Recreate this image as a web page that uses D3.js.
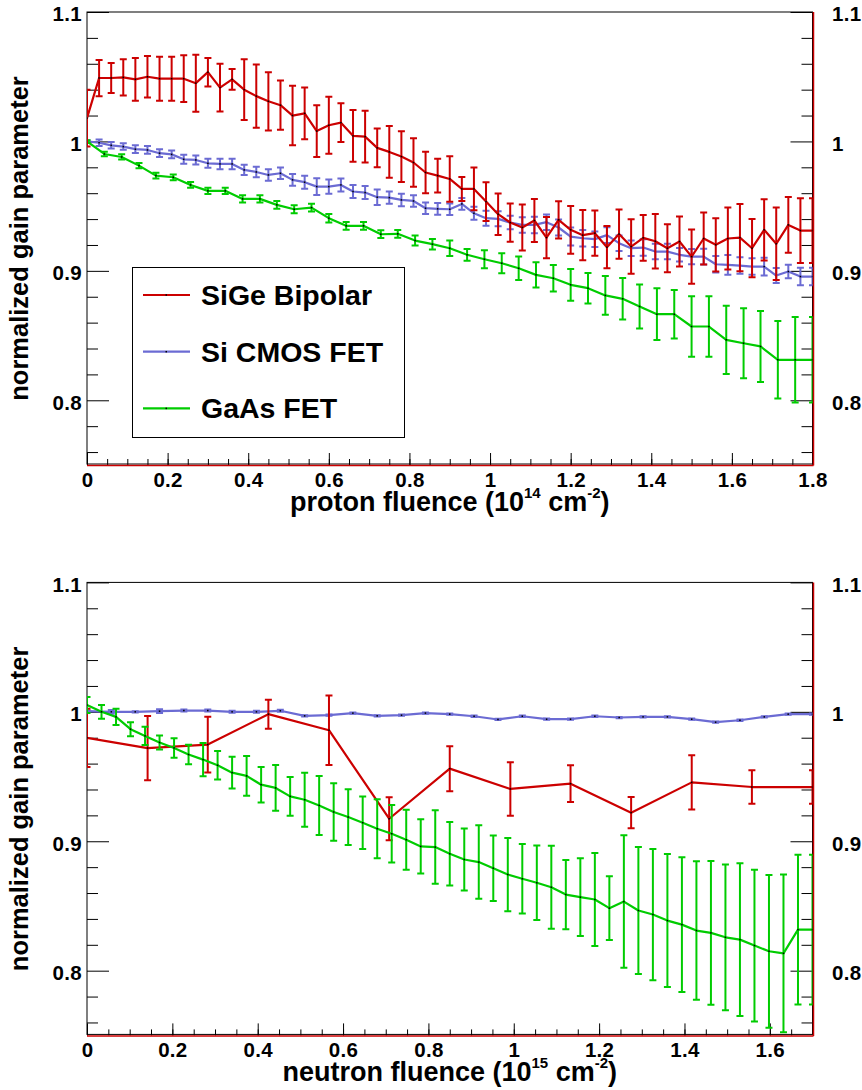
<!DOCTYPE html>
<html>
<head>
<meta charset="utf-8">
<script src="https://cdn.jsdelivr.net/npm/d3@7"></script>
<style>
  body { margin: 0; background: #fff; }
  text { font-family: "Liberation Sans", Arial, Helvetica, sans-serif; font-weight: bold; fill: #000; }
</style>
</head>
<body>
<script>
// ---- data: top panel (proton) ----
const protonX = [0,0.03,0.06,0.09,0.12,0.15,0.18,0.21,0.24,0.27,0.3,0.33,0.36,0.39,0.42,0.45,0.48,0.51,0.54,0.57,
  0.6,0.63,0.66,0.69,0.72,0.75,0.78,0.81,0.84,0.87,0.9,0.93,0.96,0.99,1.02,1.05,1.08,1.11,1.14,1.17,
  1.2,1.23,1.26,1.29,1.32,1.35,1.38,1.41,1.44,1.47,1.5,1.53,1.56,1.59,1.62,1.65,1.68,1.71,1.74,1.77,1.8];
const protonSiGe = [1.018,1.049,1.049,1.0495,1.048,1.050,1.0485,1.0485,1.0485,1.045,1.0535,1.0416,1.048,1.040,1.035,1.031,1.028,1.020,1.0217,1.008,
  1.0125,1.0145,1.0043,1.0037,0.995,0.9919,0.9883,0.9837,0.976,0.9736,0.971,0.9633,0.9633,0.9535,0.9438,0.9373,0.9335,0.9389,0.9257,0.9394,
  0.9317,0.9276,0.9291,0.9183,0.9284,0.9188,0.9255,0.9229,0.9175,0.9227,0.911,0.925,0.9201,0.925,0.9257,0.9175,0.9317,0.9209,0.9355,0.9311,0.9311];
const protonSiGeErr = [0.022,0.014,0.0115,0.014,0.0165,0.016,0.017,0.017,0.018,0.022,0.011,0.0185,0.008,0.0235,0.0245,0.0225,0.019,0.023,0.020,0.020,
  0.022,0.015,0.020,0.020,0.015,0.020,0.0196,0.0187,0.016,0.013,0.0176,0.0093,0.0165,0.015,0.016,0.0148,0.0178,0.0167,0.016,0.0144,
  0.0184,0.0194,0.0175,0.0163,0.019,0.021,0.0176,0.021,0.0185,0.0193,0.021,0.020,0.0206,0.024,0.026,0.0225,0.0237,0.028,0.0215,0.025,0.025];
const protonCMOS = [1.0,0.999,0.997,0.996,0.994,0.9934,0.9909,0.990,0.9862,0.9857,0.9831,0.9826,0.9826,0.978,0.9764,0.9741,0.9754,0.9703,0.9685,0.9651,
  0.9651,0.9664,0.9613,0.9605,0.9569,0.9566,0.9548,0.954,0.9484,0.9479,0.9476,0.9517,0.9445,0.9407,0.9402,0.9373,0.9355,0.9355,0.9376,0.9335,
  0.9265,0.9252,0.9245,0.9276,0.9214,0.9175,0.918,0.9149,0.9149,0.9124,0.911,0.911,0.9051,0.9046,0.9041,0.9033,0.9033,0.8964,0.8995,0.8956,0.8956];
const protonCMOSErr = [0.001,0.0025,0.0025,0.0025,0.003,0.003,0.003,0.003,0.0035,0.0035,0.0035,0.004,0.004,0.004,0.004,0.0045,0.0045,0.0045,0.005,0.0065,
  0.0055,0.005,0.005,0.005,0.006,0.0048,0.0048,0.0045,0.0044,0.0045,0.0045,0.0045,0.005,0.0058,0.0058,0.0052,0.006,0.0064,0.006,0.0062,
  0.007,0.0064,0.006,0.006,0.006,0.006,0.0064,0.006,0.006,0.0052,0.0058,0.006,0.0064,0.0077,0.0064,0.0064,0.0068,0.0058,0.0052,0.0068,0.0068];
const protonGaAsX = [0,0.043,0.086,0.129,0.171,0.214,0.257,0.3,0.343,0.386,0.429,0.471,0.514,0.557,0.6,0.643,0.686,0.729,0.771,0.814,
  0.857,0.9,0.943,0.986,1.029,1.071,1.114,1.157,1.2,1.243,1.286,1.329,1.371,1.414,1.457,1.5,1.543,1.586,1.629,1.671,1.714,1.757,1.8];
const protonGaAs = [1.0,0.9903,0.988,0.9813,0.9736,0.9723,0.9664,0.9618,0.9618,0.9556,0.9556,0.951,0.9476,0.9489,0.9407,0.9348,0.9348,0.9283,0.9286,0.9234,
  0.9206,0.9175,0.9124,0.909,0.9059,0.902,0.8969,0.8943,0.8892,0.8866,0.881,0.8784,0.8725,0.8665,0.8665,0.857,0.857,0.8467,0.8441,0.8416,0.8313,0.8313,0.8313];
const protonGaAsErr = [0.001,0.0018,0.002,0.002,0.0022,0.0022,0.0022,0.0025,0.0025,0.0028,0.0028,0.003,0.003,0.003,0.0033,0.003,0.003,0.003,0.003,0.0039,
  0.0041,0.006,0.0045,0.007,0.0077,0.009,0.0097,0.0103,0.0122,0.0118,0.015,0.016,0.017,0.020,0.0187,0.0234,0.0234,0.0264,0.027,0.0274,0.030,0.033,0.033];

// ---- data: bottom panel (neutron) ----
const neutronSiGeX = [0,0.142,0.283,0.425,0.567,0.708,0.85,0.992,1.133,1.275,1.417,1.558,1.7];
const neutronSiGe = [0.9799,0.972,0.9747,0.9982,0.9858,0.9174,0.9561,0.9404,0.9445,0.9221,0.9455,0.9419,0.9419];
const neutronSiGeErr = [0.0225,0.0248,0.0215,0.0112,0.0268,0.0166,0.0174,0.0206,0.0142,0.012,0.021,0.0129,0.0129];
const neutronCMOSX = [0,0.057,0.113,0.17,0.227,0.283,0.34,0.397,0.453,0.51,0.567,0.623,0.68,0.737,0.793,0.85,0.907,0.963,1.02,1.077,
  1.133,1.19,1.247,1.303,1.36,1.417,1.473,1.53,1.587,1.643,1.7];
const neutronCMOS = [1.0005,1.0,1.0,1.0005,1.001,1.001,1.0,1.0,1.0008,0.9969,0.9974,0.999,0.9969,0.9974,0.999,0.9982,0.9966,0.9941,0.9966,0.9943,
  0.9943,0.9966,0.9956,0.9961,0.9961,0.9943,0.992,0.9935,0.9961,0.9982,0.9982];
const neutronCMOSErr = [0.0005,0.0015,0.0005,0.0015,0.0008,0.0008,0.0008,0.0008,0.0008,0.0005,0.0005,0.0005,0.0005,0.0005,0.0005,0.0005,0.0005,0.0005,0.0005,0.0005,
  0.0005,0.0005,0.0005,0.0005,0.0005,0.0005,0.0005,0.0005,0.0005,0.0005,0.0005];
const neutronGaAsX = [0,0.034,0.068,0.102,0.136,0.17,0.204,0.238,0.272,0.306,0.34,0.374,0.408,0.442,0.476,0.51,0.544,0.578,0.612,0.646,
  0.68,0.714,0.748,0.782,0.816,0.85,0.884,0.918,0.952,0.986,1.02,1.054,1.088,1.122,1.156,1.19,1.224,1.258,1.292,1.326,
  1.36,1.394,1.428,1.462,1.496,1.53,1.564,1.598,1.632,1.666,1.7];
const neutronGaAs = [1.0052,1.0,0.9961,0.9866,0.9814,0.9763,0.9721,0.967,0.9631,0.9587,0.953,0.9505,0.9437,0.9412,0.9347,0.9321,0.9277,0.9226,0.9187,0.9143,
  0.9097,0.9058,0.9012,0.896,0.8955,0.8903,0.8859,0.8839,0.8792,0.8743,0.871,0.8679,0.8645,0.8588,0.8568,0.855,0.8483,0.8534,0.8465,0.8434,
  0.8387,0.8356,0.831,0.8292,0.8258,0.824,0.8194,0.815,0.8134,0.8317,0.8317];
const neutronGaAsErr = [0.0062,0.0053,0.0062,0.0054,0.0071,0.0055,0.0075,0.0075,0.0128,0.011,0.0123,0.0154,0.0137,0.0177,0.015,0.0208,0.0228,0.0223,0.0215,0.0203,
  0.0228,0.0223,0.0232,0.021,0.0284,0.0245,0.0239,0.0284,0.0253,0.0283,0.0268,0.0288,0.0321,0.0268,0.03,0.0359,0.0246,0.0512,0.049,0.0507,
  0.0514,0.052,0.0535,0.0555,0.0563,0.059,0.0586,0.059,0.061,0.0578,0.0578];

// ---- labels & ticks ----
const seriesNames = ["SiGe Bipolar", "Si CMOS FET", "GaAs FET"];
const seriesColors = ["#cc0000", "#6b6bd3", "#00cc00"];
const yTicks = [0.8, 0.9, 1, 1.1];
const yMinorTicks = [0.76,0.78,0.82,0.84,0.86,0.88,0.92,0.94,0.96,0.98,1.02,1.04,1.06,1.08];
const protonTicks = [0,0.2,0.4,0.6,0.8,1,1.2,1.4,1.6,1.8];
const neutronTicks = [0,0.2,0.4,0.6,0.8,1,1.2,1.4,1.6];
const yTitle = "normalized gain parameter";

const width = 862, height = 1090;
const svg = d3.select("body").append("svg")
    .attr("width", width)
    .attr("height", height);

const fmt = d => String(+d.toFixed(2));

function panel(top, xMax, ticks, titleWord, power, series, legend) {
  const left = 87, right = 812.5, bottom = top + 453;
  const x = d3.scaleLinear().domain([0, xMax]).range([left, right]);
  const y = d3.scaleLinear().domain([0.75, 1.1]).range([bottom, top]);
  const g = svg.append("g");
  const clipId = "clip" + Math.round(top);

  g.append("clipPath").attr("id", clipId)
    .append("rect")
      .attr("x", left).attr("y", top)
      .attr("width", right - left).attr("height", bottom - top);

  // frame
  g.append("rect")
      .attr("x", left).attr("y", top)
      .attr("width", right - left).attr("height", bottom - top - 1)
      .attr("fill", "none").attr("stroke", "#000").attr("stroke-width", 1);

  // y axes (left + right), ticks pointing inward
  const yl = g.append("g")
      .attr("transform", `translate(${left},0)`)
      .call(d3.axisLeft(y).tickValues(yTicks).tickSize(-22).tickPadding(5).tickFormat(fmt))
      .call(a => a.select(".domain").remove());
  g.append("g")
      .attr("transform", `translate(${left},0)`)
      .call(d3.axisLeft(y).tickValues(yMinorTicks).tickSize(-11).tickFormat(""))
      .call(a => a.select(".domain").remove());
  const yr = g.append("g")
      .attr("transform", `translate(${right},0)`)
      .call(d3.axisRight(y).tickValues(yTicks).tickSize(-22).tickPadding(19.5).tickFormat(fmt))
      .call(a => a.select(".domain").remove());
  g.append("g")
      .attr("transform", `translate(${right},0)`)
      .call(d3.axisRight(y).tickValues(yMinorTicks).tickSize(-11).tickFormat(""))
      .call(a => a.select(".domain").remove());
  yl.selectAll(".tick text").attr("dy", "0.43em");
  yr.selectAll(".tick text").attr("dy", "0.43em");

  // x axis
  g.append("g")
      .attr("transform", `translate(0,${bottom})`)
      .call(d3.axisBottom(x).tickValues(ticks).tickSize(-12).tickPadding(7).tickFormat(fmt))
      .call(a => a.select(".domain").remove());
  g.append("g")
      .attr("transform", `translate(0,${bottom})`)
      .call(d3.axisBottom(x).tickValues(x.ticks(xMax / 0.05)).tickSize(-6).tickFormat(""))
      .call(a => a.select(".domain").remove());

  g.selectAll(".tick text")
      .attr("font-size", 20.5)
      .attr("letter-spacing", 0.3);
  g.selectAll(".tick line").attr("stroke", "#000").attr("stroke-width", 1);

  // red edge lines along bottom and right (as in the source)
  g.append("line")
      .attr("x1", left).attr("x2", right + 1)
      .attr("y1", bottom + 0.5).attr("y2", bottom + 0.5)
      .attr("stroke", "#cc0000").attr("stroke-width", 1.5);
  g.append("line")
      .attr("x1", right + 1).attr("x2", right + 1)
      .attr("y1", top).attr("y2", bottom + 0.5)
      .attr("stroke", "#cc0000").attr("stroke-width", 1.5);

  // series
  const plot = g.append("g").attr("clip-path", `url(#${clipId})`);
  const line = d3.line().x(d => x(d.x)).y(d => y(d.y));
  series.forEach(s => {
    const pts = s.xs.map((v, i) => ({x: v, y: s.ys[i], e: s.es[i]}));
    const sg = plot.append("g");
    sg.selectAll("line.err").data(pts).join("line")
        .attr("class", "err")
        .attr("x1", d => x(d.x)).attr("x2", d => x(d.x))
        .attr("y1", d => y(d.y - d.e)).attr("y2", d => y(d.y + d.e))
        .attr("stroke", s.color).attr("stroke-width", 2);
    sg.selectAll("path.cap").data(pts).join("path")
        .attr("class", "cap")
        .attr("d", d => `M${x(d.x) - 3.5},${y(d.y - d.e)}h7M${x(d.x) - 3.5},${y(d.y + d.e)}h7`)
        .attr("stroke", s.color).attr("stroke-width", 2);
    sg.append("path")
        .datum(pts)
        .attr("fill", "none")
        .attr("stroke", s.color)
        .attr("stroke-width", 2.2)
        .attr("stroke-linejoin", "round")
        .attr("d", line);
    sg.selectAll("rect.dot").data(pts).join("rect")
        .attr("class", "dot")
        .attr("x", d => x(d.x) - 0.75).attr("y", d => y(d.y) - 0.75)
        .attr("width", 1.5).attr("height", 1.5)
        .attr("fill", "#000");
  });

  // axis titles
  const xt = g.append("text")
      .attr("x", (left + right) / 2)
      .attr("y", bottom + 46)
      .attr("text-anchor", "middle")
      .attr("font-size", 27);
  xt.append("tspan").text(`${titleWord} fluence (10`);
  xt.append("tspan").attr("font-size", 15).attr("dy", -13).text(power);
  xt.append("tspan").attr("dy", 13).text(" cm");
  xt.append("tspan").attr("font-size", 15).attr("dy", -13).text("-2");
  xt.append("tspan").attr("dy", 13).text(")");

  g.append("text")
      .attr("transform", `translate(28,${(top + bottom) / 2}) rotate(-90)`)
      .attr("text-anchor", "middle")
      .attr("font-size", 25.5)
      .text(yTitle);

  if (legend) {
    const lg = g.append("g");
    lg.append("rect")
        .attr("x", 132.5).attr("y", 267.5)
        .attr("width", 272).attr("height", 170)
        .attr("fill", "#fff").attr("stroke", "#000").attr("stroke-width", 1);
    seriesNames.forEach((name, i) => {
      const cy = 295 + i * 56.7;
      lg.append("line")
          .attr("x1", 143).attr("x2", 190)
          .attr("y1", cy).attr("y2", cy)
          .attr("stroke", seriesColors[i]).attr("stroke-width", 2.2);
      lg.append("rect")
          .attr("x", 165.5).attr("y", cy - 0.75)
          .attr("width", 1.5).attr("height", 1.5).attr("fill", "#000");
      lg.append("text")
          .attr("x", 201).attr("y", cy + 10)
          .attr("font-size", 28.5)
          .text(name);
    });
  }
}

panel(12, 1.8, protonTicks, "proton", "14", [
  {xs: protonX, ys: protonCMOS, es: protonCMOSErr, color: seriesColors[1]},
  {xs: protonGaAsX, ys: protonGaAs, es: protonGaAsErr, color: seriesColors[2]},
  {xs: protonX, ys: protonSiGe, es: protonSiGeErr, color: seriesColors[0]}
], true);

panel(582.4, 1.7, neutronTicks, "neutron", "15", [
  {xs: neutronCMOSX, ys: neutronCMOS, es: neutronCMOSErr, color: seriesColors[1]},
  {xs: neutronSiGeX, ys: neutronSiGe, es: neutronSiGeErr, color: seriesColors[0]},
  {xs: neutronGaAsX, ys: neutronGaAs, es: neutronGaAsErr, color: seriesColors[2]}
], false);
</script>
</body>
</html>
